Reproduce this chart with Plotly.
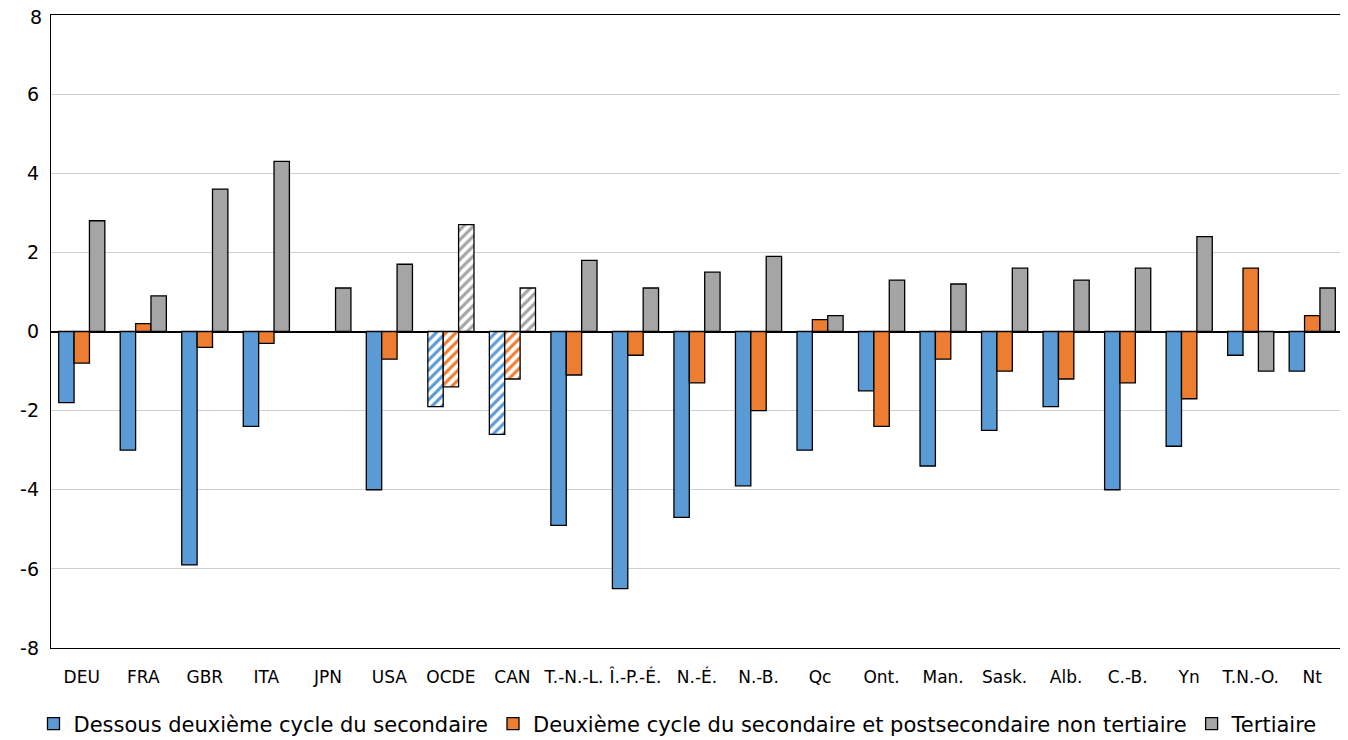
import plotly.graph_objects as go

categories = ["DEU", "FRA", "GBR", "ITA", "JPN", "USA", "OCDE", "CAN", "T.-N.-L.", "Î.-P.-É.",
              "N.-É.", "N.-B.", "Qc", "Ont.", "Man.", "Sask.", "Alb.", "C.-B.", "Yn", "T.N.-O.", "Nt"]
below_secondary = [-1.8, -3.0, -5.9, -2.4, None, -4.0, -1.9, -2.6, -4.9, -6.5,
                   -4.7, -3.9, -3.0, -1.5, -3.4, -2.5, -1.9, -4.0, -2.9, -0.6, -1.0]
upper_secondary = [-0.8, 0.2, -0.4, -0.3, None, -0.7, -1.4, -1.2, -1.1, -0.6,
                   -1.3, -2.0, 0.3, -2.4, -0.7, -1.0, -1.2, -1.3, -1.7, 1.6, 0.4]
tertiary = [2.8, 0.9, 3.6, 4.3, 1.1, 1.7, 2.7, 1.1, 1.8, 1.1,
            1.5, 1.9, 0.4, 1.3, 1.2, 1.6, 1.3, 1.6, 2.4, -1.0, 1.1]
series_names = ["Dessous deuxième cycle du secondaire",
                "Deuxième cycle du secondaire et postsecondaire non tertiaire",
                "Tertiaire"]
hatched = ["OCDE", "CAN"]
y_ticks = [-8, -6, -4, -2, 0, 2, 4, 6, 8]
y_tick_text = [str(v) for v in y_ticks]

colors = ["#5B9BD5", "#ED7D31", "#A5A5A5"]
font = "DejaVu Sans"

fig = go.Figure()
for name, vals, col in zip(series_names, [below_secondary, upper_secondary, tertiary], colors):
    is_h = [c in hatched for c in categories]
    fig.add_trace(go.Bar(
        x=categories, y=vals, name=name,
        marker=dict(
            color=col,
            line=dict(color="black", width=1.3),
            pattern=dict(shape=["/" if h else "" for h in is_h],
                         fgcolor=[col] * len(categories),
                         bgcolor=["white"] * len(categories),
                         size=7, solidity=0.45, fillmode="replace"),
        ),
    ))

# the top tick label would be hidden by plotly near the page edge; draw it as text
fig.add_annotation(x=0, xref="paper", y=y_ticks[-1], yref="y", text=y_tick_text[-1],
                   showarrow=False, xanchor="right", yanchor="middle", xshift=-7, yshift=-2,
                   height=16, font=dict(size=19, family=font, color="black"))

# page body has an 8px margin, so the figure is sized/offset to compensate
fig.update_layout(
    width=1340, height=732,
    margin=dict(l=43, r=5, t=7, b=92),
    paper_bgcolor="white", plot_bgcolor="white",
    barmode="group", bargap=0.25, bargroupgap=0,
    font=dict(family=font, color="black"),
    showlegend=True,
    legend=dict(orientation="h", x=0.5, xanchor="center", xref="container",
                y=0.05, yanchor="top", yref="container",
                font=dict(size=21, family=font), itemwidth=30, traceorder="normal"),
    xaxis=dict(showline=True, linecolor="black", linewidth=1.3, mirror=True, automargin=False,
               tickfont=dict(size=17), tickangle=0, ticks="", ticklabelstandoff=13),
    yaxis=dict(range=[-8, 8], tickvals=y_ticks[:-1], ticktext=y_tick_text[:-1], showline=True,
               linecolor="black", automargin=False,
               linewidth=1.3, mirror=True, gridcolor="#D0D0D0", gridwidth=1,
               zeroline=True, zerolinecolor="black", zerolinewidth=1.5,
               tickfont=dict(size=19), ticks="", ticklabelstandoff=7),
)

fig.write_html("out.html")
